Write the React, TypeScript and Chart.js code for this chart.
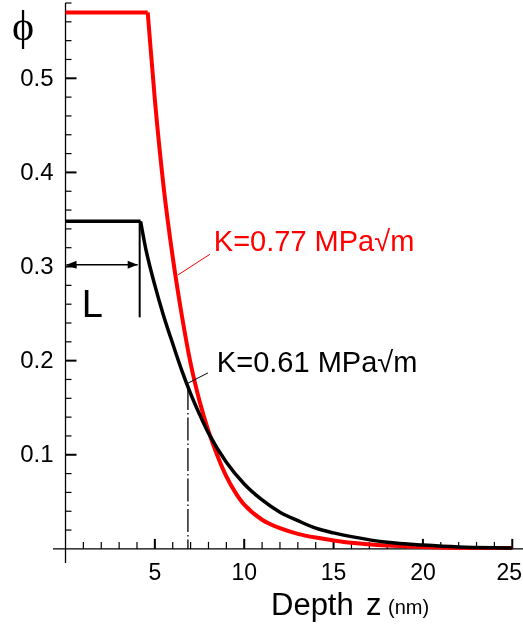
import React, { useEffect, useRef } from "react";
import { Chart, registerables } from "chart.js";

Chart.register(...registerables);

// ---- data ----
const redPlateauX = [0, 4.6];
const redPlateauY = [0.57, 0.57];
const redDecayX = [4.6, 5.0, 5.5, 6.0, 6.5, 7.0, 7.5, 8.0, 8.5, 9.0, 9.5, 10, 11, 12, 13, 14, 15, 16, 18, 20, 22, 25];
const redDecayY = [0.57, 0.477, 0.383, 0.31, 0.249, 0.197, 0.157, 0.125, 0.099, 0.077, 0.06, 0.047, 0.031, 0.022, 0.016, 0.012, 0.009, 0.0065, 0.0035, 0.002, 0.001, 0.001];

const blackPlateauX = [0, 4.2];
const blackPlateauY = [0.348, 0.348];
const blackDecayX = [4.2, 4.5, 5.0, 5.5, 6.0, 6.5, 7.0, 7.5, 8.0, 9.0, 10, 11, 12, 13, 14, 15, 16, 18, 20, 22, 25];
const blackDecayY = [0.348, 0.318, 0.28, 0.247, 0.218, 0.19, 0.165, 0.143, 0.123, 0.092, 0.069, 0.052, 0.039, 0.03, 0.022, 0.017, 0.013, 0.007, 0.004, 0.002, 0.001];

const xTickLabels = ["5", "10", "15", "20", "25"];
const xTickValues = [5, 10, 15, 20, 25];
const yTickLabels = ["0.1", "0.2", "0.3", "0.4", "0.5"];
const yTickValues = [0.1, 0.2, 0.3, 0.4, 0.5];

const redLabel = "K=0.77 MPa\u221Am";
const blackLabel = "K=0.61 MPa\u221Am";
const yTitle = "\u03D5";
const lLabel = "L";
const lLength = 4.15;
const markerDepth = 6.85;

const SANS = "'Liberation Sans', Arial, sans-serif";

const toPts = (xs: number[], ys: number[]) => xs.map((x, i) => ({ x, y: ys[i] }));

const drawPlugin = {
  id: "custom",
  beforeDatasetsDraw(chart: any) {
    const ctx = chart.ctx;
    const xs = chart.scales.x;
    const ys = chart.scales.y;
    const X = (v: number) => xs.getPixelForValue(v);
    const Y = (v: number) => ys.getPixelForValue(v);
    ctx.save();
    ctx.strokeStyle = "#000";
    ctx.lineWidth = 1.3;
    // axes lines
    ctx.beginPath();
    ctx.moveTo(X(0), Y(0.58));
    ctx.lineTo(X(0), Y(-0.015));
    ctx.moveTo(X(-0.7), Y(0));
    ctx.lineTo(X(25.6), Y(0));
    ctx.stroke();
    // x ticks
    for (let i = 1; i <= 25; i++) {
      const major = i % 5 === 0;
      ctx.lineWidth = major ? 2 : 1.2;
      ctx.beginPath();
      ctx.moveTo(X(i), Y(0));
      ctx.lineTo(X(i), Y(0) - (major ? 10 : 7));
      ctx.stroke();
    }
    // y ticks
    for (let i = 1; i <= 29; i++) {
      const v = i * 0.02;
      const major = i % 5 === 0;
      ctx.lineWidth = major ? 2 : 1.2;
      ctx.beginPath();
      ctx.moveTo(X(0), Y(v));
      ctx.lineTo(X(0) + (major ? 11 : 6), Y(v));
      ctx.stroke();
    }
    // tick labels
    ctx.fillStyle = "#000";
    ctx.font = `23px ${SANS}`;
    ctx.textBaseline = "alphabetic";
    ctx.textAlign = "center";
    xTickValues.forEach((v, i) => {
      const w = ctx.measureText(xTickLabels[i]).width;
      let px = X(v);
      if (px + w / 2 > chart.width - 1) px = chart.width - 1 - w / 2;
      ctx.fillText(xTickLabels[i], px, 580);
    });
    ctx.font = `24px ${SANS}`;
    ctx.textAlign = "right";
    ctx.textBaseline = "middle";
    yTickValues.forEach((v, i) => {
      ctx.fillText(yTickLabels[i], X(0) - 12, Y(v) + 1);
    });
    // dash-dot marker
    ctx.lineWidth = 1.3;
    ctx.setLineDash([23, 3, 1.5, 3]);
    ctx.beginPath();
    ctx.moveTo(X(markerDepth), Y(0.172));
    ctx.lineTo(X(markerDepth), Y(0));
    ctx.stroke();
    ctx.setLineDash([]);
    ctx.restore();
  },
  afterDatasetsDraw(chart: any) {
    const ctx = chart.ctx;
    const xs = chart.scales.x;
    const ys = chart.scales.y;
    const X = (v: number) => xs.getPixelForValue(v);
    const Y = (v: number) => ys.getPixelForValue(v);
    ctx.save();
    // L marker vertical
    ctx.strokeStyle = "#000";
    ctx.lineWidth = 2;
    ctx.beginPath();
    ctx.moveTo(X(lLength), Y(0.348));
    ctx.lineTo(X(lLength), Y(0.246));
    ctx.stroke();
    // double arrow
    const ay = Y(0.302);
    const ax0 = X(0) + 1;
    const ax1 = X(lLength) - 2;
    ctx.lineWidth = 1.5;
    ctx.beginPath();
    ctx.moveTo(ax0, ay);
    ctx.lineTo(ax1, ay);
    ctx.stroke();
    ctx.fillStyle = "#000";
    ctx.beginPath();
    ctx.moveTo(ax0, ay);
    ctx.lineTo(ax0 + 10, ay - 4);
    ctx.lineTo(ax0 + 10, ay + 4);
    ctx.closePath();
    ctx.fill();
    ctx.beginPath();
    ctx.moveTo(ax1, ay);
    ctx.lineTo(ax1 - 10, ay - 4);
    ctx.lineTo(ax1 - 10, ay + 4);
    ctx.closePath();
    ctx.fill();
    // L label
    ctx.font = `38px ${SANS}`;
    ctx.textAlign = "left";
    ctx.textBaseline = "alphabetic";
    ctx.fillText(lLabel, X(0.91), Y(0.246));
    // leaders
    ctx.lineWidth = 1;
    ctx.strokeStyle = "#ff0000";
    ctx.beginPath();
    ctx.moveTo(X(8.08), Y(0.313));
    ctx.lineTo(X(6.29), Y(0.291));
    ctx.stroke();
    ctx.strokeStyle = "#000";
    ctx.beginPath();
    ctx.moveTo(X(7.97), Y(0.187));
    ctx.lineTo(X(6.85), Y(0.176));
    ctx.stroke();
    // labels
    ctx.font = `29px ${SANS}`;
    ctx.fillStyle = "#ff0000";
    ctx.fillText(redLabel, X(8.3), Y(0.317));
    ctx.fillStyle = "#000";
    ctx.fillText(blackLabel, X(8.47), Y(0.188));
    // y title
    ctx.font = `42px 'Liberation Serif', 'DejaVu Serif', serif`;
    ctx.fillText(yTitle, 12, 40);
    // x title
    ctx.font = `31px ${SANS}`;
    ctx.fillText("Depth", 271, 615);
    ctx.fillText("z", 366, 615);
    ctx.font = `20px ${SANS}`;
    ctx.fillText("(nm)", 388, 614);
    ctx.restore();
  },
};

export default function App() {
  const ref = useRef<HTMLCanvasElement | null>(null);
  useEffect(() => {
    if (!ref.current) return;
    const chart = new Chart(ref.current, {
      type: "line",
      data: {
        datasets: [
          {
            data: toPts(blackPlateauX, blackPlateauY),
            borderColor: "#000",
            borderWidth: 3.5,
            pointRadius: 0,
            tension: 0,
          },
          {
            data: toPts(blackDecayX, blackDecayY),
            borderColor: "#000",
            borderWidth: 3.5,
            pointRadius: 0,
            cubicInterpolationMode: "monotone",
          },
          {
            data: toPts(redPlateauX, redPlateauY),
            borderColor: "#ff0000",
            borderWidth: 4,
            pointRadius: 0,
            tension: 0,
          },
          {
            data: toPts(redDecayX, redDecayY),
            borderColor: "#ff0000",
            borderWidth: 4,
            pointRadius: 0,
            cubicInterpolationMode: "monotone",
          },
        ],
      },
      options: {
        animation: false,
        responsive: false,
        devicePixelRatio: 1,
        layout: { padding: { left: 53, right: 0, top: 3, bottom: 62 } },
        plugins: { legend: { display: false }, tooltip: { enabled: false } },
        scales: {
          x: { type: "linear", min: -0.7, max: 25.6, display: false },
          y: { type: "linear", min: -0.015, max: 0.58, display: false },
        },
      },
      plugins: [drawPlugin],
    });
    return () => chart.destroy();
  }, []);
  return (
    <div style={{ position: "fixed", left: 0, top: 0, width: 523, height: 625, background: "#fff" }}>
      <canvas ref={ref} width={523} height={625} style={{ display: "block" }} />
    </div>
  );
}
